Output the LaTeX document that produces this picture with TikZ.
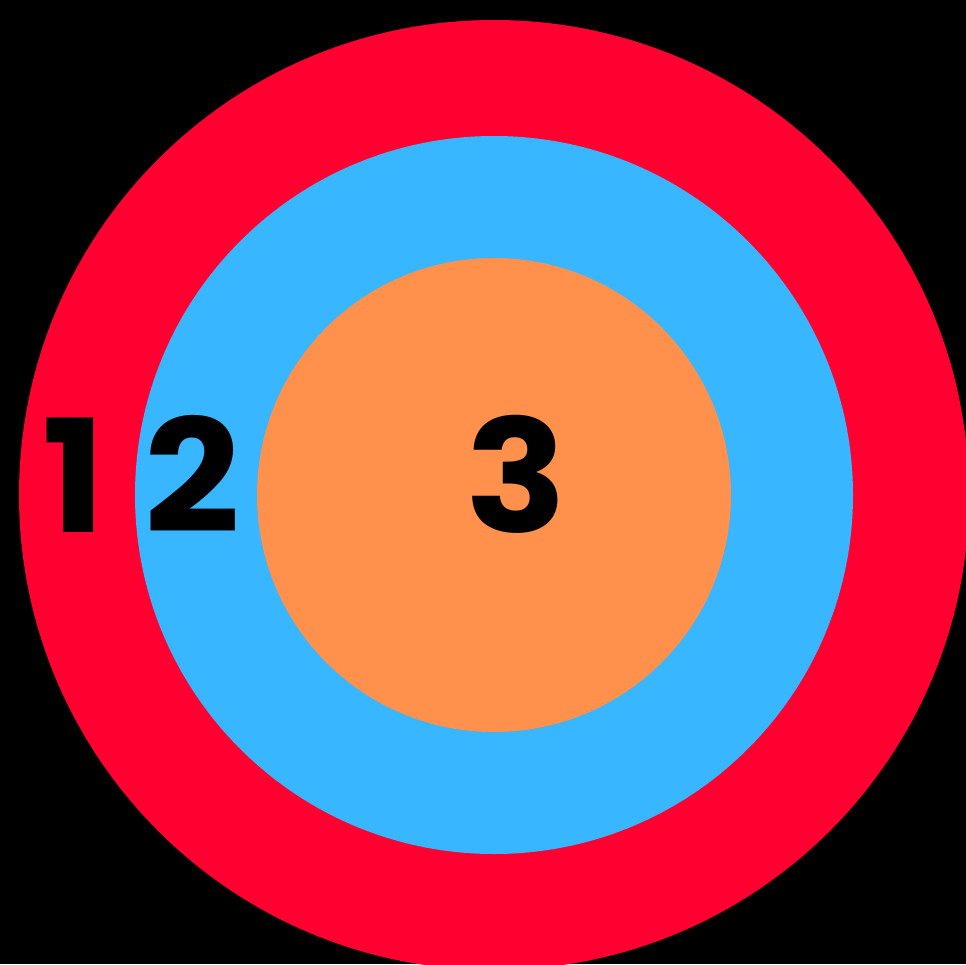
\documentclass[tikz,border=0pt]{standalone}
\usepackage{fontspec}
\setmainfont{Poppins}
\definecolor{ringred}{HTML}{FF0030}
\definecolor{ringblue}{HTML}{38B6FF}
\definecolor{ringorange}{HTML}{FF914D}
\begin{document}
\begin{tikzpicture}[x=1pt,y=-1pt,
  digit/.style={font=\fontsize{157}{157}\selectfont\bfseries, text=black, inner sep=0pt, anchor=base, xscale=1.07}]
\useasboundingbox (0,0) rectangle (966,964);
\fill[black] (0,0) rectangle (966,964);
\begin{scope}
\clip (0,0) rectangle (966,964);
\fill[ringred] (494,495) circle[radius=475];
\fill[ringblue] (494,495) circle[radius=359];
\fill[ringorange] (494,495) circle[radius=237];
\end{scope}
\node[digit] (one) at (74,532) {1};
\node[digit] (two) at (192,532) {2};
\node[digit] (three) at (516,532) {3};
\end{tikzpicture}
\end{document}
